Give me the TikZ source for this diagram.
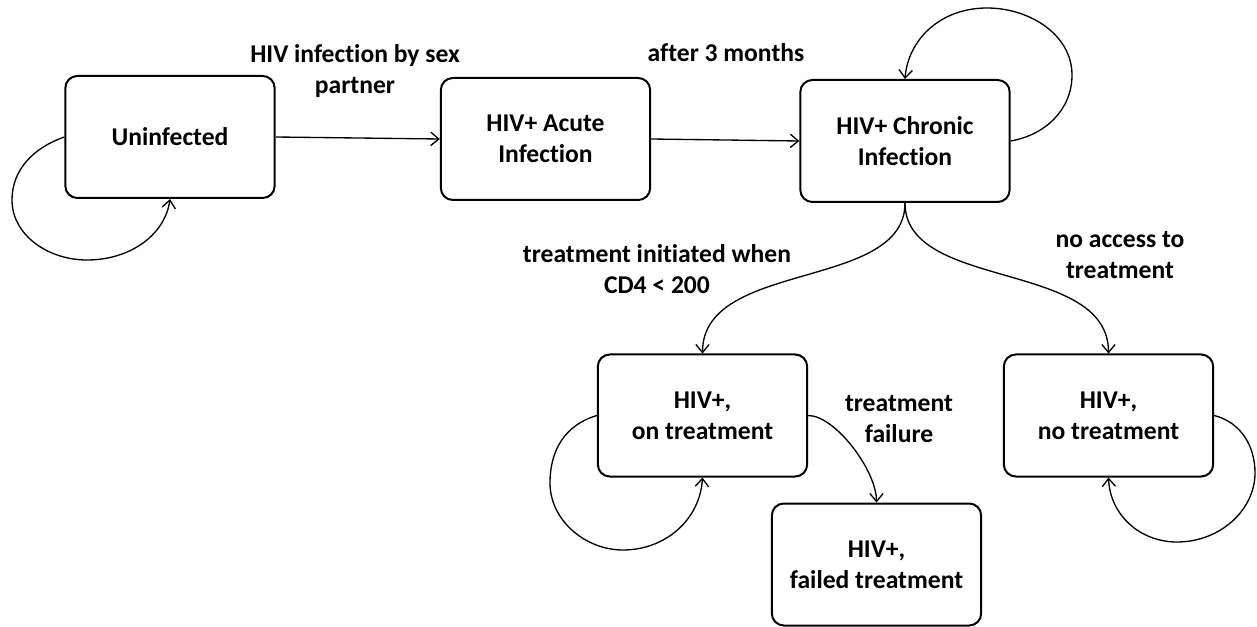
\documentclass[tikz,border=0pt]{standalone}
\usepackage{fontspec}
\setmainfont{Carlito}[Ligatures={NoCommon}]
\usetikzlibrary{arrows.meta}
\newcommand\dgfont{\fontsize{19.2}{23.2}\selectfont\bfseries}
\begin{document}
\begin{tikzpicture}[x=0.75pt,y=-0.75pt,
  state/.style={draw, line width=1.5pt, rounded corners=9pt, minimum width=157pt, minimum height=91.5pt, align=center, font=\dgfont, inner sep=0pt},
  lbl/.style={align=center, font=\dgfont, inner sep=0pt},
  conn/.style={line width=1pt, -{Straight Barb[length=6pt,width=10pt]}}]
\useasboundingbox (0,0) rectangle (1257,627);
\fill[white] (0,0) rectangle (1257,627);
% states
\node[state] (u)  at (170,137)   {\raisebox{-3pt}{Uninfected}};
\node[state] (a)  at (545.5,139) {HIV+ Acute\\Infection};
\node[state] (c)  at (905,141)   {HIV+ Chronic\\Infection};
\node[state] (o)  at (702.5,415.5) {HIV+,\\on treatment};
\node[state] (f)  at (876.5,564.5) {HIV+,\\failed treatment};
\node[state] (n)  at (1108.5,415.5) {HIV+,\\no treatment};
% labels
\node[lbl] (l1) at (355,71)  {HIV infection by sex\\partner};
\node[lbl] (l2) at (726,53)  {after 3 months};
\node[lbl] (l3) at (657,269) {treatment initiated when\\CD4 < 200};
\node[lbl] (l4) at (1120,255) {no access to\\treatment};
\node[lbl] (l5) at (899,419) {treatment\\failure};
% transitions
\draw[conn] (u.east) -- (a.west);
\draw[conn] (a.east) -- (c.west);
\draw[conn] (c.south) .. controls +(0,88) and +(0,-94) .. (o.north);
\draw[conn] (c.south) .. controls +(0,88) and +(0,-94) .. (n.north);
\draw[conn] (o.east) .. controls +(27,0) and +(0,-32) .. (f.north);
% self loops
\draw[conn] (u.west) .. controls (33,148) and (12,170) .. (12,200)
  .. controls (12,235) and (48,260) .. (87,260)
  .. controls (130,260) and (165,235) .. (u.south);
\draw[conn] (c.east) .. controls (1045,135) and (1072,110) .. (1072,75)
  .. controls (1072,35) and (1030,8) .. (987,8)
  .. controls (940,8) and (908,40) .. (c.north);
\draw[conn] (o.west) .. controls (565,425) and (550,450) .. (550,483)
  .. controls (550,520) and (585,550) .. (623,550)
  .. controls (665,550) and (700,520) .. (o.south);
\draw[conn] (n.east) .. controls (1240,422) and (1255,445) .. (1255,473)
  .. controls (1255,510) and (1220,542) .. (1177,542)
  .. controls (1140,542) and (1110,515) .. (n.south);
\end{tikzpicture}
\end{document}
